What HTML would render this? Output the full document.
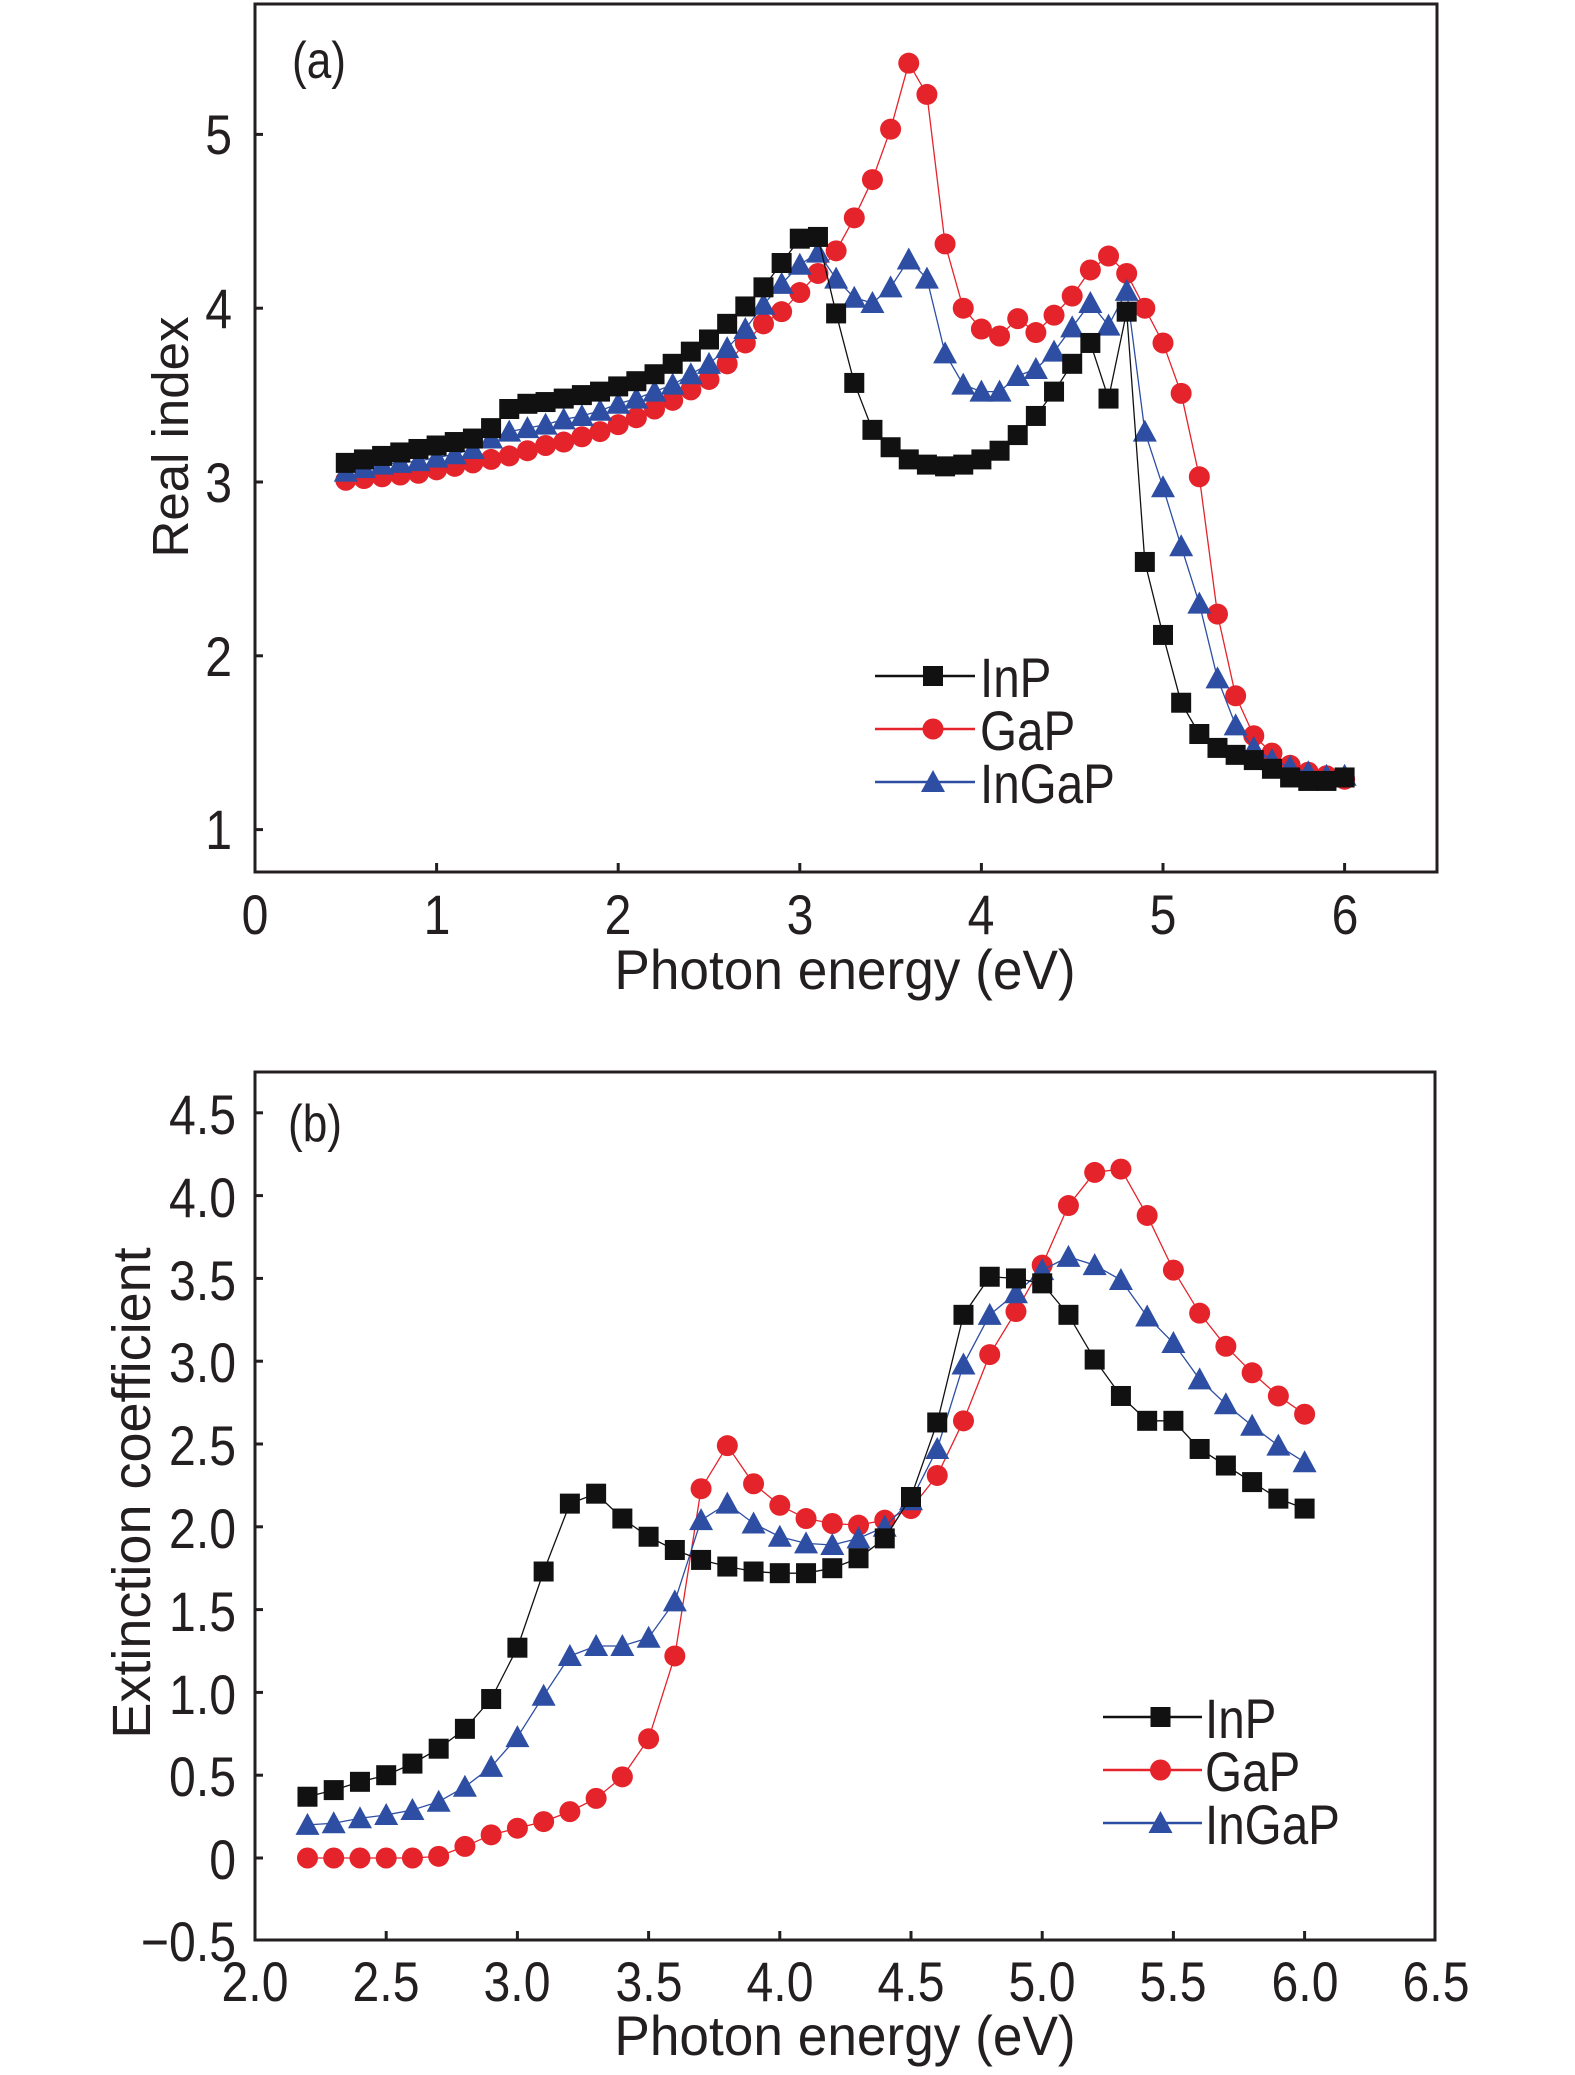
<!DOCTYPE html>
<html><head><meta charset="utf-8"><style>
html,body{margin:0;padding:0;background:#fff}
svg{display:block}
text{font-family:"Liberation Sans",sans-serif;fill:#231f20}
</style></head><body>
<svg id="s" width="1575" height="2075" viewBox="0 0 1575 2075" xmlns="http://www.w3.org/2000/svg">
<g stroke="#231f20" stroke-width="3" fill="none">
<rect x="255" y="4" width="1182" height="868"/>
<rect x="255" y="1072" width="1180" height="868"/>
</g>
<g id="ticks" stroke="#231f20" stroke-width="3"></g>
<g font-size="56" text-anchor="end">
<text transform="translate(232,154) scale(0.86,1)">5</text>
<text transform="translate(232,328) scale(0.86,1)">4</text>
<text transform="translate(232,502) scale(0.86,1)">3</text>
<text transform="translate(232,676) scale(0.86,1)">2</text>
<text transform="translate(232,849) scale(0.86,1)">1</text>
</g>
<g font-size="56" text-anchor="middle">
<text transform="translate(255,934) scale(0.86,1)">0</text>
<text transform="translate(437,934) scale(0.86,1)">1</text>
<text transform="translate(618,934) scale(0.86,1)">2</text>
<text transform="translate(800,934) scale(0.86,1)">3</text>
<text transform="translate(981,934) scale(0.86,1)">4</text>
<text transform="translate(1163,934) scale(0.86,1)">5</text>
<text transform="translate(1345,934) scale(0.86,1)">6</text>
</g>
<text transform="translate(845,989) scale(0.95,1)" font-size="56" text-anchor="middle">Photon energy (eV)</text>
<text transform="translate(188,437) rotate(-90)" font-size="51" text-anchor="middle">Real index</text>
<text transform="translate(292,78) scale(0.85,1)" font-size="52">(a)</text>
<g font-size="56" text-anchor="end">
<text transform="translate(236,1134) scale(0.86,1)">4.5</text>
<text transform="translate(236,1217) scale(0.86,1)">4.0</text>
<text transform="translate(236,1300) scale(0.86,1)">3.5</text>
<text transform="translate(236,1382) scale(0.86,1)">3.0</text>
<text transform="translate(236,1465) scale(0.86,1)">2.5</text>
<text transform="translate(236,1548) scale(0.86,1)">2.0</text>
<text transform="translate(236,1631) scale(0.86,1)">1.5</text>
<text transform="translate(236,1714) scale(0.86,1)">1.0</text>
<text transform="translate(236,1796) scale(0.86,1)">0.5</text>
<text transform="translate(236,1879) scale(0.86,1)">0</text>
<text transform="translate(236,1961) scale(0.86,1)">−0.5</text>
</g>
<g font-size="56" text-anchor="middle">
<text transform="translate(255,2001) scale(0.86,1)">2.0</text>
<text transform="translate(386,2001) scale(0.86,1)">2.5</text>
<text transform="translate(517,2001) scale(0.86,1)">3.0</text>
<text transform="translate(649,2001) scale(0.86,1)">3.5</text>
<text transform="translate(780,2001) scale(0.86,1)">4.0</text>
<text transform="translate(911,2001) scale(0.86,1)">4.5</text>
<text transform="translate(1042,2001) scale(0.86,1)">5.0</text>
<text transform="translate(1173,2001) scale(0.86,1)">5.5</text>
<text transform="translate(1305,2001) scale(0.86,1)">6.0</text>
<text transform="translate(1436,2001) scale(0.86,1)">6.5</text>
</g>
<text transform="translate(845,2055) scale(0.95,1)" font-size="56" text-anchor="middle">Photon energy (eV)</text>
<text transform="translate(150,1493) rotate(-90)" font-size="54" text-anchor="middle">Extinction coefficient</text>
<text transform="translate(288,1141) scale(0.85,1)" font-size="52">(b)</text>
<g id="data"></g>
<g font-size="56">
<text transform="translate(980,697) scale(0.85,1)">InP</text>
<text transform="translate(980,750) scale(0.85,1)">GaP</text>
<text transform="translate(980,803) scale(0.85,1)">InGaP</text>
<text transform="translate(1205,1738) scale(0.85,1)">InP</text>
<text transform="translate(1205,1791) scale(0.85,1)">GaP</text>
<text transform="translate(1205,1844) scale(0.85,1)">InGaP</text>
</g>
</svg>
<script>
var NS="http://www.w3.org/2000/svg";
function el(t,a,p){var e=document.createElementNS(NS,t);for(var k in a)e.setAttribute(k,a[k]);(p||document.getElementById('data')).appendChild(e);return e;}
var tk=document.getElementById('ticks');
var SA=181.6, SB=262.4;
[1,2,3,4,5].forEach(function(n){var y=1003.4-173.8*n;el('line',{x1:255,x2:263,y1:y,y2:y},tk);});
[1,2,3,4,5,6].forEach(function(e){var x=255+SA*e;el('line',{x1:x,x2:x,y1:872,y2:863},tk);});
for(var i=0;i<10;i++){var y=1858-165.6*(4.5-i*0.5);el('line',{x1:255,x2:263,y1:y,y2:y},tk);}
for(var i=1;i<9;i++){var x=255+SB/2*i;el('line',{x1:x,x2:x,y1:1940,y2:1931},tk);}
var C={InP:'#111',GaP:'#e5232b',InGaP:'#2d4ea3'};
function marker(type,x,y){
 if(type=='InP')el('rect',{x:x-10,y:y-10,width:20,height:20,fill:'#111'});
 else if(type=='GaP')el('circle',{cx:x,cy:y,r:10.5,fill:C.GaP});
 else el('polygon',{points:(x-12)+','+(y+10)+' '+(x+12)+','+(y+10)+' '+x+','+(y-12),fill:C.InGaP});
}
function series(type,x0,vals,X,Y){
 var pts=vals.map(function(v,i){return [X(x0+0.1*i),Y(v)];});
 el('polyline',{points:pts.map(function(p){return p.join(',')}).join(' '),fill:'none',stroke:C[type],'stroke-width':1.3});
 pts.forEach(function(p){marker(type,p[0],p[1]);});
}
var Xa=function(e){return 255+SA*e},Ya=function(n){return 1003.4-173.8*n};
var aInP=[3.11,3.13,3.15,3.17,3.19,3.21,3.23,3.25,3.31,3.42,3.45,3.46,3.48,3.5,3.52,3.55,3.58,3.62,3.68,3.75,3.82,3.91,4.01,4.12,4.26,4.4,4.41,3.97,3.57,3.3,3.2,3.13,3.1,3.09,3.1,3.13,3.18,3.27,3.38,3.52,3.68,3.8,3.48,3.98,2.54,2.12,1.73,1.55,1.47,1.43,1.4,1.35,1.3,1.28,1.28,1.3];
var aGaP=[3.01,3.02,3.03,3.04,3.05,3.07,3.09,3.11,3.13,3.15,3.18,3.21,3.23,3.26,3.29,3.33,3.37,3.42,3.47,3.53,3.59,3.68,3.8,3.91,3.98,4.09,4.2,4.33,4.52,4.74,5.03,5.41,5.23,4.37,4.0,3.88,3.84,3.94,3.86,3.96,4.07,4.22,4.3,4.2,4.0,3.8,3.51,3.03,2.24,1.77,1.54,1.44,1.37,1.33,1.31,1.29];
var aIn=[3.06,3.08,3.1,3.11,3.12,3.14,3.16,3.19,3.25,3.29,3.31,3.33,3.36,3.38,3.41,3.45,3.48,3.52,3.56,3.62,3.68,3.77,3.88,4.02,4.14,4.25,4.32,4.17,4.06,4.03,4.12,4.28,4.17,3.74,3.56,3.52,3.52,3.61,3.65,3.75,3.89,4.03,3.9,4.1,3.29,2.97,2.63,2.3,1.87,1.6,1.47,1.4,1.36,1.33,1.31,1.31];
series('GaP',0.5,aGaP,Xa,Ya);series('InGaP',0.5,aIn,Xa,Ya);series('InP',0.5,aInP,Xa,Ya);
var Xb=function(e){return 255+SB*(e-2)},Yb=function(k){return 1858-165.6*k};
var bInP=[0.37,0.41,0.46,0.5,0.57,0.66,0.78,0.96,1.27,1.73,2.14,2.2,2.05,1.94,1.86,1.8,1.76,1.73,1.72,1.72,1.75,1.81,1.93,2.18,2.63,3.28,3.51,3.5,3.47,3.28,3.01,2.79,2.64,2.64,2.47,2.37,2.27,2.17,2.11];
var bGaP=[0,0,0,0,0,0.01,0.07,0.14,0.18,0.22,0.28,0.36,0.49,0.72,1.22,2.23,2.49,2.26,2.13,2.05,2.02,2.01,2.04,2.11,2.31,2.64,3.04,3.3,3.58,3.94,4.14,4.16,3.88,3.55,3.29,3.09,2.93,2.79,2.68];
var bIn=[0.2,0.21,0.24,0.26,0.29,0.34,0.43,0.55,0.73,0.98,1.22,1.28,1.28,1.33,1.55,2.04,2.14,2.02,1.94,1.9,1.89,1.93,2.0,2.16,2.47,2.98,3.28,3.41,3.55,3.63,3.58,3.49,3.27,3.11,2.89,2.74,2.61,2.49,2.39];
series('GaP',2.2,bGaP,Xb,Yb);series('InGaP',2.2,bIn,Xb,Yb);series('InP',2.2,bInP,Xb,Yb);
[[875,975,676,729,782],[1103,1202,1717,1770,1823]].forEach(function(L){
 var cx=(L[0]+L[1])/2+8;
 [['InP',L[2]],['GaP',L[3]],['InGaP',L[4]]].forEach(function(r){
  el('line',{x1:L[0],x2:L[1],y1:r[1],y2:r[1],stroke:C[r[0]],'stroke-width':2.5});
  marker(r[0],cx,r[1]);
 });
});
</script>
</body></html>
